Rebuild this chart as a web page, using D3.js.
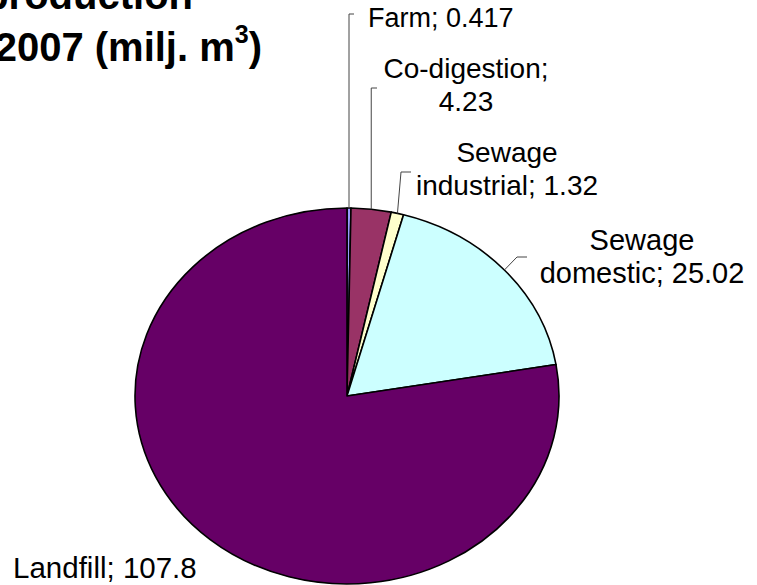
<!DOCTYPE html>
<html><head><meta charset="utf-8">
<script src="https://cdn.jsdelivr.net/npm/d3@7"></script>
<style>
html,body{margin:0;padding:0;background:#fff;overflow:hidden;}
text{font-family:Arial,"Liberation Sans",sans-serif;fill:#000;}
</style></head>
<body>
<svg id="chart" width="757" height="585"></svg>
<script>
const categories = ["Farm", "Co-digestion", "Sewage industrial", "Sewage domestic", "Landfill"];
const values = [0.417, 4.23, 1.32, 25.02, 107.8];
const valueLabels = ["0.417", "4.23", "1.32", "25.02", "107.8"];
const colors = ["#9999FF", "#993366", "#FFFFCC", "#CCFFFF", "#660066"];
const labelLines = [
  ["Farm; 0.417"],
  ["Co-digestion;", "4.23"],
  ["Sewage", "industrial; 1.32"],
  ["Sewage", "domestic; 25.02"],
  ["Landfill; 107.8"]
];
const titleLines = ["Biogas production", "2007 (milj. m"];

const svg = d3.select("#chart");
const cx = 347, cy = 396, rx = 212, ry = 188;

const pie = d3.pie().sort(null).value(d => d)(values);
const arc = d3.arc().innerRadius(0).outerRadius(rx);

const g = svg.append("g").attr("transform", `translate(${cx},${cy}) scale(1,${ry/rx})`);
g.selectAll("path").data(pie).join("path")
  .attr("d", arc)
  .attr("fill", (d,i) => colors[i])
  .attr("stroke", "#000")
  .attr("stroke-width", 1.6)
  .attr("stroke-linejoin", "round")
  .attr("vector-effect", "non-scaling-stroke");

function edge(d) {
  const a = (d.startAngle + d.endAngle) / 2;
  return [cx + rx * Math.sin(a), cy - ry * Math.cos(a)];
}

const anchors = [
  {lx: 354, ly: 14},
  {lx: 377, ly: 88},
  {lx: 411, ly: 172, kx: 401},
  {lx: 527, ly: 257, kx: 517},
  null
];
const leaders = svg.append("g");
pie.forEach((d, i) => {
  const an = anchors[i];
  if (!an) return;
  const [ex, ey] = edge(d);
  const pts = i < 2 ? [[ex, ey], [ex, an.ly], [an.lx, an.ly]]
                    : [[ex, ey], [an.kx, an.ly], [an.lx, an.ly]];
  leaders.append("path")
    .attr("d", d3.line()(pts))
    .attr("fill", "none").attr("stroke", "#444").attr("stroke-width", 1);
});

const lab = [
  {x: 368, y: 27, anchor: "start", fs: 27},
  {x: 466, y: 78, anchor: "middle", fs: 28},
  {x: 507, y: 162, anchor: "middle", fs: 28},
  {x: 642, y: 250, anchor: "middle", fs: 29},
  {x: 13, y: 578, anchor: "start", fs: 29.5}
];
const lh = 33;
labelLines.forEach((lines, i) => {
  const t = svg.append("text")
    .attr("x", lab[i].x).attr("y", lab[i].y)
    .attr("text-anchor", lab[i].anchor)
    .style("font-size", lab[i].fs + "px");
  lines.forEach((ln, j) => {
    t.append("tspan").attr("x", lab[i].x).attr("dy", j === 0 ? 0 : lh).text(ln);
  });
});

const title = svg.append("g").style("font-weight", "bold").style("font-size", "40px");
title.append("text").attr("x", 193).attr("y", 9).attr("text-anchor", "end").text(titleLines[0]);
const t2 = title.append("text").attr("x", 262).attr("y", 61).attr("text-anchor", "end");
t2.append("tspan").text(titleLines[1]);
t2.append("tspan").attr("dy", -18).style("font-size", "25px").text("3");
t2.append("tspan").attr("dy", 18).text(")");
</script>
</body></html>
